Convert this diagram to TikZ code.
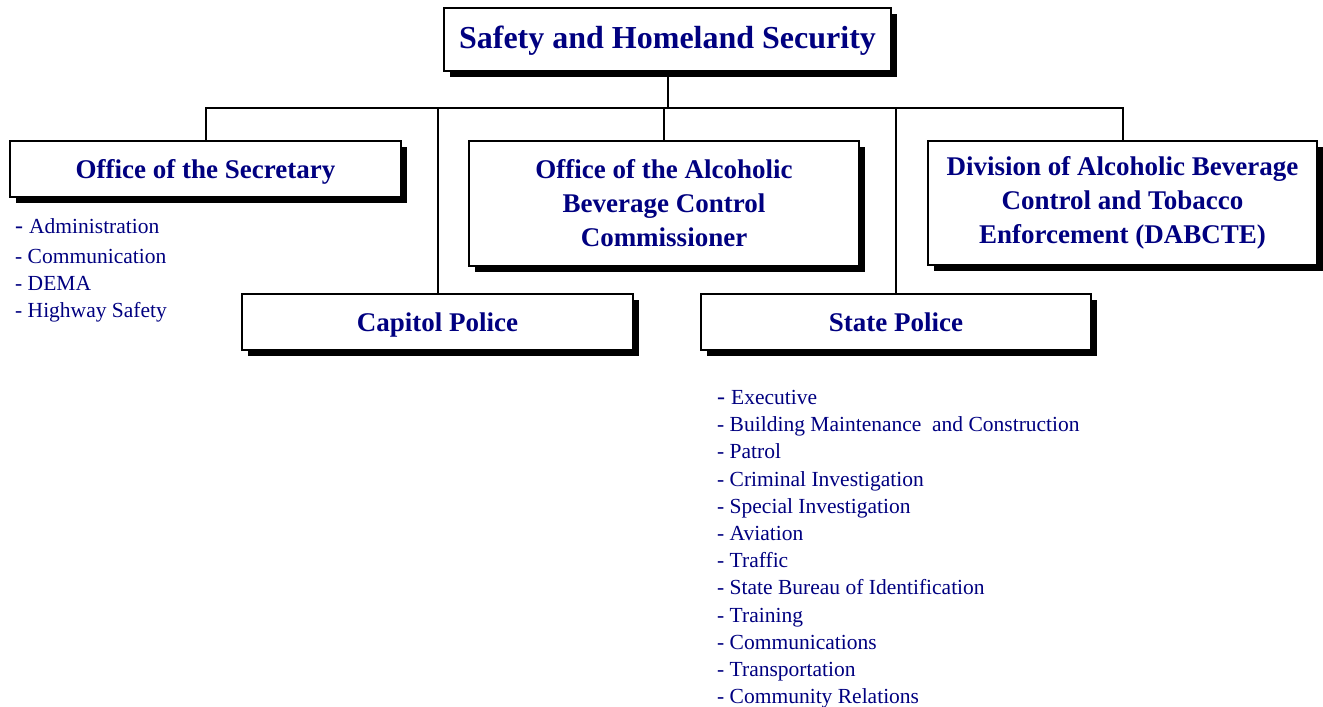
\documentclass[tikz,border=0pt]{standalone}
\usepackage{fontspec}
\setmainfont{Liberation Serif}
\usepackage{tikz}
\usetikzlibrary{positioning,shadows}
\definecolor{deptblue}{RGB}{0,0,128}
\tikzset{%
  unit box/.style={draw=black,line width=2pt,fill=white,text=deptblue,
    font=\fontsize{27}{34}\selectfont\bfseries,align=center,inner sep=0pt,
    drop shadow={shadow xshift=6pt,shadow yshift=-6pt,fill=black,opacity=1}},%
  one line/.style={text height=18pt,text depth=0pt},%
  link/.style={line width=2pt,black},%
  sub list/.style={text=deptblue,align=left,inner sep=0pt,anchor=north west,
    font=\fontsize{21.5}{27.2}\selectfont}%
}

\begin{document}
\begin{tikzpicture}[x=1pt,y=-1pt]
\useasboundingbox (0,0) rectangle (1323,707);

%% the department on top
\node[unit box,one line,minimum width=447,minimum height=63] (shs) at (667.5,39.5)
  {\fontsize{32}{36}\selectfont Safety and Homeland Security};

%% upper row of units
\node[unit box,one line,minimum width=391,minimum height=56] (sec) at (205.5,169)
  {Office of the Secretary};
\node[unit box,minimum width=390,minimum height=125] (abcc) at (664,203.5)
  {Office of the Alcoholic\\Beverage Control\\Commissioner};
\node[unit box,minimum width=389,minimum height=124] (dabcte) at (1122.5,203)
  {Division of Alcoholic Beverage\\Control and Tobacco\\Enforcement (DABCTE)};

%% lower row of units
\node[unit box,one line,minimum width=391,minimum height=56] (cap) at (437.5,322)
  {Capitol Police};
\node[unit box,one line,minimum width=390,minimum height=56] (sp) at (896,322)
  {State Police};

%% connectors
\coordinate (bus) at (shs.south |- 0,108);
\draw[link] (shs.south) -- (bus);
\draw[link] (sec.north) |- (bus) -| (dabcte.north);
\draw[link] (cap.north) -- (cap.north |- bus);
\draw[link] (abcc.north) -- (abcc.north |- bus);
\draw[link] (sp.north) -- (sp.north |- bus);

%% sections of the units
\node[sub list] (seclist) at (15,218)
  {{\fontsize{24}{27}\selectfont -}\hspace{6pt}Administration\\[3pt]
   - Communication\\- DEMA\\- Highway Safety};
\node[sub list] (splist) at (717,390)
  {{\fontsize{24}{27}\selectfont -}\hspace{6pt}Executive\\
   - Building Maintenance\ \ and Construction\\- Patrol\\
   - Criminal Investigation\\- Special Investigation\\- Aviation\\
   - Traffic\\- State Bureau of Identification\\- Training\\
   - Communications\\- Transportation\\- Community Relations};

\end{tikzpicture}
\end{document}
